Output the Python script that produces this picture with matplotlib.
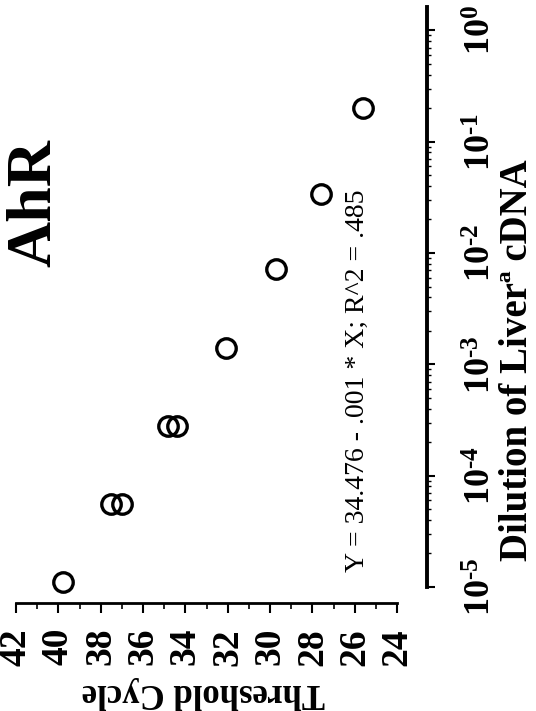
import numpy as np
import matplotlib.pyplot as plt
from matplotlib.ticker import NullFormatter

# replicate wells: threshold cycle vs. dilution of the liver cDNA
threshold = [39.8, 37.5, 37.0, 34.8, 34.4, 32.1, 29.7, 27.6, 25.6]
dilution = [1.1e-5, 5.6e-5, 5.6e-5, 2.8e-4, 2.8e-4, 1.4e-3, 7.2e-3, 3.4e-2, 2.0e-1]

cycle_ticks = [42, 40, 38, 36, 34, 32, 30, 28, 26, 24]
dilution_ticks = [1e-5, 1e-4, 1e-3, 1e-2, 1e-1, 1e0]
# short hyphen in the exponents, not a math minus
dilution_labels = ['10$^{\u2010 5}$', '10$^{\u2010 4}$', '10$^{\u2010 3}$',
                   '10$^{\u2010 2}$', '10$^{\u2010 1}$', '10$^{0}$']

fit_text = 'Y = 34.476 - .001 * X; R^2 = .485'

plt.rcParams['font.family'] = ['Liberation Serif', 'DejaVu Serif']
plt.rcParams['font.weight'] = 'bold'
plt.rcParams['mathtext.fontset'] = 'custom'
plt.rcParams['mathtext.rm'] = 'Liberation Serif:bold'
plt.rcParams['mathtext.it'] = 'Liberation Serif:bold'
plt.rcParams['mathtext.bf'] = 'Liberation Serif:bold'

fig = plt.figure(figsize=(5.36, 7.11), dpi=100)
ax = fig.add_axes([0.0299, 0.1519, 0.7668, 0.8383])

ax.plot(threshold, dilution, linestyle='none', marker='o', markersize=14,
        markerfacecolor='none', markeredgecolor='black', markeredgewidth=2.4)

# cycle axis runs along the bottom, high to low
ax.set_xlim(42, 22.59)
ax.set_xticks(cycle_ticks)
ax.set_xticklabels([str(c) for c in cycle_ticks], rotation=90, fontsize=27)
ax.set_xticks(range(25, 42, 2), minor=True)
ax.spines['bottom'].set_bounds(24, 42)
ax.spines['bottom'].set_linewidth(2)

# dilution axis on the right, log scale
ax.set_yscale('log')
ax.set_ylim(10 ** -5.144, 10 ** 0.21)
ax.yaxis.tick_right()
ax.set_yticks(dilution_ticks)
ax.set_yticklabels(dilution_labels, rotation=90, fontsize=26, va='center')
# minor ticks only inside the drawn spine
minor = [m * d for d in dilution_ticks[:-1] for m in range(2, 10)]
ax.set_yticks(minor, minor=True)
ax.yaxis.set_minor_formatter(NullFormatter())
ax.spines['right'].set_bounds(1e-5, 10 ** 0.21)
ax.spines['right'].set_linewidth(2.8)

ax.spines['top'].set_visible(False)
ax.spines['left'].set_visible(False)
ax.patch.set_visible(False)

ax.tick_params(axis='x', which='major', direction='out', length=7, width=1.5, pad=11)
ax.tick_params(axis='x', which='minor', direction='out', length=4, width=1.2)
ax.tick_params(axis='y', which='major', direction='out', length=6, width=1.5, pad=22)
ax.tick_params(axis='y', which='minor', direction='out', length=3, width=1.0)

fig.text(203 / 536, 1 - 692 / 711, 'Threshold Cycle', rotation=180,
         ha='center', va='center', fontsize=25)
fig.text(527 / 536, 1 - 360 / 711, 'Dilution of Liver\u00aa cDNA', rotation=90,
         rotation_mode='anchor', ha='center', va='baseline', fontsize=28)
fig.text(35 / 536, 1 - 203 / 711, 'AhR', rotation=90,
         ha='center', va='center', fontsize=46)
fig.text(357 / 536, 1 - 381 / 711, fit_text, rotation=90,
         ha='center', va='center', fontsize=20, fontweight='normal')

fig.savefig('out.png', dpi=100)
